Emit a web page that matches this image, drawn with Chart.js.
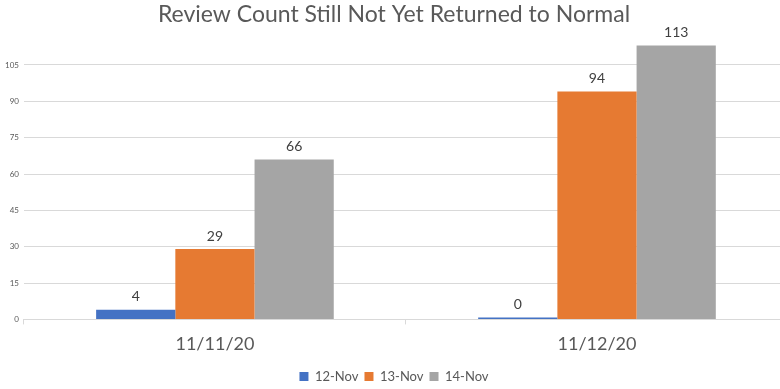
<!DOCTYPE html>
<html>
<head>
<meta charset="utf-8">
<script src="https://cdn.jsdelivr.net/npm/chart.js@4/dist/chart.umd.min.js"></script>
<style>
  html, body { margin: 0; padding: 0; background: #fff; overflow: hidden; }
  #wrap { width: 798px; height: 393px; }
</style>
</head>
<body>
<div id="wrap"><canvas id="myChart"></canvas></div>
<script>
const dates = ['11/11/20', '11/12/20'];
const seriesNames = ['12-Nov', '13-Nov', '14-Nov'];
const nov12 = [4, 0];
const nov13 = [29, 94];
const nov14 = [66, 113];
const colors = ['#4472C4', '#E67A32', '#A5A5A5'];

// draws the numbers above each bar
const barLabels = {
  id: 'barLabels',
  afterDatasetsDraw(chart) {
    const ctx = chart.ctx;
    ctx.save();
    ctx.font = '14px Lato';
    ctx.fillStyle = '#404040';
    ctx.textAlign = 'center';
    ctx.textBaseline = 'bottom';
    chart.data.datasets.forEach((ds, i) => {
      chart.getDatasetMeta(i).data.forEach((bar, j) => {
        ctx.fillText(ds.data[j], bar.x, bar.y - 6);
      });
    });
    ctx.restore();
  }
};

const dataset = [nov12, nov13, nov14].map((vals, i) => ({
  label: seriesNames[i],
  data: vals,
  backgroundColor: colors[i],
  minBarLength: 2,
  barPercentage: 1,
  categoryPercentage: 0.622
}));

new Chart(document.getElementById('myChart'), {
  type: 'bar',
  data: { labels: dates, datasets: dataset },
  plugins: [barLabels],
  options: {
    responsive: true,
    maintainAspectRatio: false,
    animation: false,
    layout: { padding: { left: 0, right: 10, top: 1, bottom: 0 } },
    plugins: {
      title: {
        display: true,
        text: 'Review Count Still Not Yet Returned to Normal',
        color: '#595959',
        font: { family: 'Lato', size: 23, weight: 'normal' },
        padding: { top: 0, bottom: 0 }
      },
      legend: {
        position: 'bottom',
        labels: {
          color: '#595959',
          font: { family: 'Lato', size: 13 },
          boxWidth: 9,
          boxHeight: 9,
          padding: 6
        }
      },
      tooltip: { enabled: false }
    },
    scales: {
      x: {
        grid: {
          display: true,
          drawOnChartArea: false,
          drawTicks: true,
          tickLength: 5,
          color: '#D9D9D9'
        },
        border: { color: '#D9D9D9' },
        ticks: {
          color: '#595959',
          font: { family: 'Lato', size: 18 },
          padding: 9
        }
      },
      y: {
        min: 0,
        max: 120,
        grid: {
          color: ctx => ctx.tick && ctx.tick.value === 120 ? 'rgba(0,0,0,0)' : '#D9D9D9',
          drawTicks: false
        },
        border: { display: false },
        ticks: {
          stepSize: 15,
          color: '#595959',
          font: { family: 'Lato', size: 8 },
          padding: 5,
          callback: v => v === 120 ? '' : v
        }
      }
    }
  }
});
</script>
</body>
</html>
